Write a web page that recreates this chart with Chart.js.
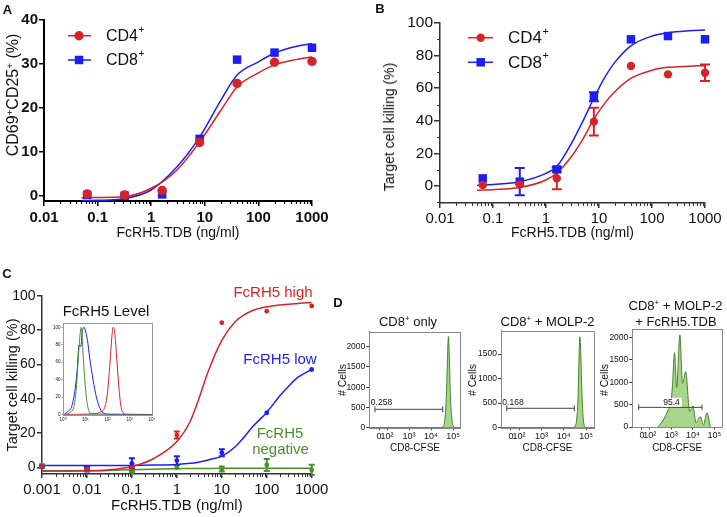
<!DOCTYPE html>
<html>
<head>
<meta charset="utf-8">
<script src="https://cdn.jsdelivr.net/npm/chart.js@4.4.1/dist/chart.umd.min.js"></script>
<style>
body { margin: 0; background: #fff; }
#fig { position: relative; width: 727px; height: 517px; overflow: hidden; font-family: "Liberation Sans", Arial, Helvetica, sans-serif; color: #111; }
canvas { position: absolute; }
.t { position: absolute; white-space: nowrap; line-height: 1; transform: translate(-50%, -50%); }
.r { transform: translate(-50%, -50%) rotate(-90deg); }
.b { font-weight: bold; }
sup { font-size: 0.62em; vertical-align: 0.5em; line-height: 0; }
</style>
</head>
<body>
<div id="fig">
  <canvas id="cA" width="335" height="245" style="left:0;top:0"></canvas>
  <canvas id="cB" width="350" height="245" style="left:377px;top:0"></canvas>
  <canvas id="cC" width="335" height="262" style="left:0;top:255px"></canvas>
  <canvas id="cIn" width="120" height="112" style="left:40px;top:315px"></canvas>
  <canvas id="cD1" width="122" height="135" style="left:345px;top:322px"></canvas>
  <canvas id="cD2" width="124" height="135" style="left:475px;top:322px"></canvas>
  <canvas id="cD3" width="121" height="135" style="left:606px;top:322px"></canvas>

  <div class="t b" style="left:7.5px;top:8.5px;font-size:13px">A</div>
  <div class="t b" style="left:380px;top:8px;font-size:13px">B</div>
  <div class="t b" style="left:7px;top:273px;font-size:13px">C</div>
  <div class="t b" style="left:338px;top:302px;font-size:13px">D</div>

  <div class="t r" style="left:12.5px;top:95px;font-size:16px">CD69<sup>+</sup>CD25<sup>+</sup> (%)</div>
  <div class="t r" style="left:389px;top:127px;font-size:14px">Target cell killing (%)</div>
  <div class="t r" style="left:11.5px;top:385px;font-size:14.5px">Target cell killing (%)</div>

  <div class="t" style="left:273px;top:291px;font-size:15px;color:rgb(215,35,35)">FcRH5 high</div>
  <div class="t" style="left:280px;top:358px;font-size:15px;color:rgb(35,35,235)">FcRH5 low</div>
  <div class="t" style="left:280px;top:432px;font-size:15px;color:rgb(75,145,40)">FcRH5</div>
  <div class="t" style="left:280.5px;top:448px;font-size:15px;color:rgb(75,145,40)">negative</div>
  <div class="t" style="left:106px;top:310px;font-size:15px">FcRH5 Level</div>

  <div class="t" style="left:408px;top:320.5px;font-size:13px">CD8<sup>+</sup> only</div>
  <div class="t" style="left:547.5px;top:320.5px;font-size:13px">CD8<sup>+</sup> + MOLP-2</div>
  <div class="t" style="left:675.5px;top:305px;font-size:13px">CD8<sup>+</sup> + MOLP-2</div>
  <div class="t" style="left:676px;top:320.5px;font-size:13px">+ FcRH5.TDB</div>
  <div class="t r" style="left:342px;top:380px;font-size:10.5px"># Cells</div>
  <div class="t r" style="left:471.5px;top:380px;font-size:10.5px"># Cells</div>
  <div class="t r" style="left:603.5px;top:380px;font-size:10.5px"># Cells</div>
  <div class="t" style="left:381.5px;top:401.5px;font-size:8.5px">0.258</div>
  <div class="t" style="left:513px;top:401.5px;font-size:8.5px">0.168</div>
  <div class="t" style="left:671.5px;top:402px;font-size:8.5px;background:#fff;padding:0 2px">95.4</div>
</div>

<script>
// ---------- A: activation, CD69+CD25+ (%) ----------
var doses = [0.064, 0.32, 1.6, 8, 40, 200, 1000];
var aCD4 = [0.5, 0.3, 1.3, 12.2, 25.6, 30.4, 30.6];
var aCD8 = [0.3, 0.1, 0.4, 13.0, 31.0, 32.6, 33.7];
// fitted curves
var aFitDoses = [0.05, 0.1, 0.3, 1, 3, 8, 20, 40, 100, 200, 500, 1000];
var aCD4Fit = [-0.35, -0.3, -0.15, 1.8, 5.9, 12.3, 19.5, 24.8, 28.0, 29.8, 31.0, 31.6];
var aCD8Fit = [-1.0, -0.95, -0.6, 1.4, 6.6, 13.4, 21.8, 27.5, 30.5, 32.5, 34.0, 34.6];
var aTicksX = [0.01, 0.1, 1, 10, 100, 1000];
var aTicksY = [0, 10, 20, 30, 40];

// ---------- B: target cell killing (%) ----------
var bCD4 = [0.6, 1.0, 4.7, 39.5, 73.6, 68.5, 69.5];
var bCD4Err = [0, 0, 6.6, 8.5, 0, 0, 5];
var bCD8 = [4.7, 2.7, 10.2, 54.8, 90, 92, 90];
var bCD8Err = [0, 8.4, 1.5, 2.8, 0, 0, 0];
var bFitDoses = [0.05, 0.1, 0.32, 1, 1.6, 3, 5, 8, 13, 20, 40, 100, 200, 500, 1000];
var bCD4Fit = [-2.6, -2.2, -0.9, 3.7, 8, 18, 29, 41, 51, 58, 66, 71, 72.8, 73.5, 73.8];
var bCD8Fit = [0.4, 1.0, 2.7, 7.8, 12, 26, 40, 54, 67, 76, 86, 92, 94, 95.2, 95.7];
var bTicksY = [0, 20, 40, 60, 80, 100];

// ---------- C: killing by FcRH5 level ----------
var cDoses = [0.001, 0.01, 0.1, 1, 10, 100, 1000];
var cHigh = [0.4, -1.0, 0, 18.8, 84.3, 91, 94];
var cHighErr = [0.5, 1, 0.8, 2, 0, 0, 0];
var cLow = [0.4, -1.0, 2.3, 3.9, 8.5, 31.8, 57];
var cLowErr = [0.5, 1.5, 3, 2.5, 2, 0, 0];
var cNeg = [0.8, -1.2, -2.5, -0.2, -1, 1.4, -1.5];
var cNegErr = [1, 0.5, 0.5, 0, 1.5, 3.5, 3];
var cFitDoses = [0.001, 0.01, 0.03, 0.1, 0.3, 1, 2, 3, 5, 10, 20, 30, 50, 100, 200, 300, 500, 1000];
var cHighFit = [-2.2, -2.0, -1.5, 0.5, 5, 15, 27, 39, 56, 74, 85, 88.5, 91.5, 93.5, 94.6, 95, 95.5, 96];
var cLowFit = [1, 1, 1, 1.1, 1.3, 1.7, 2.3, 3, 4.3, 6.5, 12, 17, 24, 32, 42, 47, 52.5, 57];
var cNegFit = [-2.2, -2.0, -1.8, -1.4, -1.1, -0.8, -0.75, -0.7, -0.65, -0.6, -0.6, -0.6, -0.6, -0.6, -0.6, -0.6, -0.6, -0.6];
var cTicksX = [0.001, 0.01, 0.1, 1, 10, 100, 1000];
var cTicksY = [0, 20, 40, 60, 80, 100];

// inset: FcRH5 level histograms (x in decades)
var inGreenT = [0.1, 0.3, 0.5, 0.6, 0.7, 0.78, 0.82, 0.88, 0.95, 1.05, 1.15, 1.3, 1.6, 2.0, 4.0];
var inGreenN = [0, 2, 10, 30, 70, 95, 100, 80, 50, 20, 5, 1, 0.5, 0.5, 0];
var inBlueT = [0.05, 0.2, 0.4, 0.55, 0.65, 0.72, 0.8, 0.87, 0.95, 1.0, 1.1, 1.2, 1.35, 1.5, 1.7, 1.9, 2.2, 4.0];
var inBlueN = [0, 3, 10, 30, 55, 80, 78, 95, 100, 97, 85, 65, 40, 20, 5, 1, 0, 0];
var inRedT = [0, 1.4, 1.7, 1.9, 2.0, 2.1, 2.2, 2.25, 2.32, 2.4, 2.5, 2.6, 2.7, 2.9, 4.0];
var inRedN = [0, 1, 3, 10, 25, 55, 90, 100, 95, 70, 35, 10, 2, 0, 0];
var inTicksX = [0, 1, 2, 3, 4];
var inTickLabels = ['10⁰', '10¹', '10²', '10³', '10⁴'];
var inTicksY = [0, 20, 40, 60, 80, 100];

// ---------- D: CFSE dilution (x in decades) ----------
var d1T = [4.45, 4.55, 4.63, 4.7, 4.75, 4.79, 4.83, 4.88, 4.95, 5.05, 5.15];
var d1N = [0, 30, 200, 800, 1700, 2250, 1800, 800, 200, 20, 0];
var d2T = [4.4, 4.5, 4.58, 4.64, 4.68, 4.72, 4.76, 4.81, 4.87, 4.95, 5.05];
var d2N = [0, 30, 180, 650, 1400, 1850, 1500, 700, 180, 20, 0];
var d3T = [2.38, 2.63, 2.85, 3.0, 3.06, 3.15, 3.25, 3.40, 3.52, 3.67, 3.85, 4.0, 4.15, 4.34, 4.49, 4.65, 4.81];
var d3N = [0, 157, 380, 604, 978, 1663, 889, 2060, 978, 1238, 343, 470, 96, 231, 45, 320, 0];
var d1Gate = [1.45, 4.53], d1GateY = 454;
var d2Gate = [1.45, 4.47], d2GateY = 395;
var d3Gate = [1.49, 4.42], d3GateY = 440;
var dTicksX = [1.64, 2, 3, 4, 5];
var dTickLabels = ['0', '10²', '10³', '10⁴', '10⁵'];

var RED = 'rgb(214,35,40)';
var BLUE = 'rgb(30,30,240)';
var GREEN = 'rgb(70,145,40)';

Chart.defaults.font.family = "'Liberation Sans', Arial, Helvetica, sans-serif";
Chart.defaults.color = '#111';
Chart.defaults.animation = false;
Chart.defaults.responsive = false;
Chart.defaults.plugins.legend.display = false;
Chart.defaults.plugins.tooltip.enabled = false;

// minor ticks + box around plot area
var axisExtras = {
  id: 'axisExtras',
  afterDraw: function (chart, args, o) {
    var ctx = chart.ctx, a = chart.chartArea;
    ctx.save();
    ctx.strokeStyle = o.color || '#000';
    ctx.lineWidth = o.width || 1;
    if (o.logMinor) {
      var xs = chart.scales.x;
      for (var d = Math.floor(Math.log10(xs.min)); d < Math.log10(xs.max); d++) {
        for (var k = 2; k < 10; k++) {
          var v = k * Math.pow(10, d);
          if (v < xs.min || v > xs.max) continue;
          var px = Math.round(xs.getPixelForValue(v)) + 0.5;
          ctx.beginPath(); ctx.moveTo(px, a.bottom); ctx.lineTo(px, a.bottom + o.logMinor); ctx.stroke();
        }
      }
    }
    if (o.yMinor) {
      var ys = chart.scales.y;
      o.yMinor.forEach(function (v) {
        var py = Math.round(ys.getPixelForValue(v)) + 0.5;
        ctx.beginPath(); ctx.moveTo(a.left, py); ctx.lineTo(a.left - o.yMinorLen, py); ctx.stroke();
      });
    }
    if (o.box) {
      ctx.strokeStyle = o.box;
      ctx.lineWidth = 1;
      ctx.strokeRect(Math.round(a.left) + 0.5, Math.round(a.top) + 0.5, Math.round(a.right - a.left), Math.round(a.bottom - a.top));
    }
    ctx.restore();
  }
};

// vertical error bars, from dataset.errors
var errorBars = {
  id: 'errorBars',
  beforeDatasetsDraw: function (chart) {
    var ctx = chart.ctx;
    chart.data.datasets.forEach(function (ds, di) {
      if (!ds.errors) return;
      var meta = chart.getDatasetMeta(di), ys = chart.scales.y;
      ctx.save();
      ctx.strokeStyle = ds.borderColor;
      ctx.lineWidth = ds.errWidth || 2;
      ds.data.forEach(function (p, i) {
        var e = ds.errors[i];
        if (!e) return;
        var x = meta.data[i].x, c = ds.errCap || 4;
        var yt = ys.getPixelForValue(p.y + e), yb = ys.getPixelForValue(p.y - e);
        ctx.beginPath();
        ctx.moveTo(x, yt); ctx.lineTo(x, yb);
        ctx.moveTo(x - c, yt); ctx.lineTo(x + c, yt);
        ctx.moveTo(x - c, yb); ctx.lineTo(x + c, yb);
        ctx.stroke();
      });
      ctx.restore();
    });
  }
};

// line + marker legend placed inside the plot
var lineLegend = {
  id: 'lineLegend',
  afterDraw: function (chart, args, o) {
    if (!o.ys) return;
    var ctx = chart.ctx;
    ctx.save();
    o.ys.forEach(function (y, i) {
      var ds = chart.data.datasets[i];
      ctx.strokeStyle = ds.borderColor;
      ctx.lineWidth = 1.5;
      ctx.beginPath(); ctx.moveTo(o.x1, y); ctx.lineTo(o.x2, y); ctx.stroke();
      ctx.fillStyle = ds.backgroundColor;
      var r = ds.pointRadius;
      if (ds.pointStyle === 'rect') {
        var s = r * Math.SQRT1_2;
        ctx.fillRect(o.mx - s, y - s, 2 * s, 2 * s);
      } else {
        ctx.beginPath(); ctx.arc(o.mx, y, r, 0, Math.PI * 2); ctx.fill();
      }
      var main = ds.label.replace(/\+$/, '');
      ctx.fillStyle = '#111';
      ctx.textBaseline = 'middle';
      ctx.font = o.size + 'px ' + Chart.defaults.font.family;
      ctx.fillText(main, o.tx, y + 1);
      var w = ctx.measureText(main).width;
      ctx.font = Math.round(o.size * 0.62) + 'px ' + Chart.defaults.font.family;
      ctx.fillText('+', o.tx + w + 0.5, y - o.size * 0.35);
    });
    ctx.restore();
  }
};

Chart.register(axisExtras, errorBars, lineLegend);

function pts(xs, ys) {
  return xs.map(function (x, i) { return { x: x, y: ys[i] }; });
}

function axis(o) {
  return {
    type: o.type || 'linear',
    min: o.min,
    max: o.max,
    afterFit: function (s) { if (s.isHorizontal()) s.height = o.size; else s.width = o.size; },
    afterBuildTicks: function (s) { s.ticks = o.ticks.map(function (v) { return { value: v }; }); },
    ticks: {
      autoSkip: false, maxRotation: 0, minRotation: 0,
      padding: o.pad, color: o.tc || '#111',
      font: { size: o.fs, weight: o.fw || 'normal' },
      callback: o.labels ? function (v, i) { return o.labels[i]; } : function (v) { return String(v); }
    },
    grid: { drawOnChartArea: false, drawTicks: true, tickLength: o.tl, color: o.gc || '#000', lineWidth: o.lw || 1.5 },
    border: { color: o.bc || '#000', width: o.bw || 1.5 },
    title: o.title ? { display: true, text: o.title, color: '#111', font: { size: o.tfs }, padding: { top: 0, bottom: o.tpad } } : { display: false }
  };
}

function markers(label, xs, ys, color, style, r, extra) {
  var ds = { label: label, data: pts(xs, ys), pointStyle: style, pointRadius: r, backgroundColor: color,
             borderColor: color, pointBorderWidth: 0, clip: false };
  return Object.assign(ds, extra || {});
}

function fit(xs, ys, color, w) {
  return { data: pts(xs, ys), showLine: true, pointRadius: 0, borderColor: color, borderWidth: w || 1.5,
           cubicInterpolationMode: 'monotone', fill: false };
}

// ----- panel A -----
new Chart(document.getElementById('cA'), {
  type: 'scatter',
  data: { datasets: [
    markers('CD4+', doses, aCD4, RED, 'circle', 4.7),
    markers('CD8+', doses, aCD8, BLUE, 'rect', 6),
    fit(aFitDoses, aCD4Fit, RED),
    fit(aFitDoses, aCD8Fit, BLUE)
  ] },
  options: {
    layout: { padding: { left: 0, top: 20, right: 23, bottom: 0 } },
    scales: {
      x: axis({ type: 'logarithmic', min: 0.01, max: 1000, ticks: aTicksX, size: 44, tl: 5, pad: 3, fs: 15, fw: 'bold',
                title: 'FcRH5.TDB (ng/ml)', tfs: 14, tpad: 3, bw: 2 }),
      y: axis({ min: -1.1, max: 40, ticks: aTicksY, size: 44, tl: 5, pad: 1, fs: 15, fw: 'bold', bw: 2 })
    },
    plugins: {
      axisExtras: { logMinor: 3, width: 1.2 },
      lineLegend: { ys: [35.7, 60], x1: 68, x2: 91, mx: 79, tx: 106, size: 16 }
    }
  }
});

// ----- panel B -----
new Chart(document.getElementById('cB'), {
  type: 'scatter',
  data: { datasets: [
    markers('CD4+', doses, bCD4, RED, 'circle', 4.2, { errors: bCD4Err, errCap: 5 }),
    markers('CD8+', doses, bCD8, BLUE, 'rect', 6, { errors: bCD8Err, errCap: 5 }),
    fit(bFitDoses, bCD4Fit, RED),
    fit(bFitDoses, bCD8Fit, BLUE)
  ] },
  options: {
    layout: { padding: { left: 0, top: 23, right: 22, bottom: 0 } },
    scales: {
      x: axis({ type: 'logarithmic', min: 0.01, max: 1000, ticks: aTicksX, size: 42, tl: 5, pad: 2, fs: 15,
                title: 'FcRH5.TDB (ng/ml)', tfs: 14, tpad: 3, gc: '#333', bc: '#333' }),
      y: axis({ min: -10.4, max: 100, ticks: bTicksY, size: 63, tl: 6, pad: 1, fs: 15.5, gc: '#333', bc: '#333' })
    },
    plugins: {
      axisExtras: { logMinor: 3, yMinor: [-10, 10, 30, 50, 70, 90], yMinorLen: 3, color: '#333' },
      lineLegend: { ys: [37.7, 62.3], x1: 91, x2: 116, mx: 103.7, tx: 131, size: 17 }
    }
  }
});

// ----- panel C -----
new Chart(document.getElementById('cC'), {
  type: 'scatter',
  data: { datasets: [
    markers('FcRH5 high', cDoses, cHigh, RED, 'circle', 2.4, { errors: cHighErr, errCap: 3 }),
    markers('FcRH5 low', cDoses, cLow, BLUE, 'circle', 2.4, { errors: cLowErr, errCap: 3 }),
    markers('FcRH5 negative', cDoses, cNeg, GREEN, 'circle', 2.4, { errors: cNegErr, errCap: 3 }),
    fit(cFitDoses, cHighFit, RED),
    fit(cFitDoses, cLowFit, BLUE),
    fit(cFitDoses, cNegFit, GREEN)
  ] },
  options: {
    layout: { padding: { left: 0, top: 40.7, right: 23.3, bottom: 0 } },
    scales: {
      x: axis({ type: 'logarithmic', min: 0.001, max: 1000, ticks: cTicksX, size: 43, tl: 4, pad: 2.5, fs: 15,
                title: 'FcRH5.TDB (ng/ml)', tfs: 15, tpad: 2, gc: '#333', bc: '#333' }),
      y: axis({ min: -3.9, max: 100, ticks: cTicksY, size: 42, tl: 5, pad: 1.5, fs: 14, gc: '#333', bc: '#333' })
    },
    plugins: { axisExtras: { logMinor: 3, color: '#333' } }
  }
});

// ----- inset in C -----
new Chart(document.getElementById('cIn'), {
  type: 'scatter',
  data: { datasets: [
    fit(inGreenT, inGreenN, GREEN, 1),
    fit(inBlueT, inBlueN, BLUE, 1),
    fit(inRedT, inRedN, RED, 1)
  ] },
  options: {
    layout: { padding: { left: 0, top: 8, right: 8, bottom: 0 } },
    scales: {
      x: axis({ min: 0, max: 4, ticks: inTicksX, labels: inTickLabels, size: 12.5, tl: 1.5, pad: 1, fs: 4.5, lw: 0.6, bw: 0.8, gc: '#555', bc: '#888' }),
      y: axis({ min: 0, max: 105, ticks: inTicksY, size: 23, tl: 1.5, pad: 1, fs: 4.5, lw: 0.6, bw: 0.8, gc: '#555', bc: '#888' })
    },
    plugins: { axisExtras: { box: '#999' } }
  }
});

// ----- panel D histograms -----
function histChart(id, t, n, gate, gateY, yMax, yTicks, yW, padR, padT, xH) {
  new Chart(document.getElementById(id), {
    type: 'scatter',
    data: { datasets: [
      { data: pts(gate, [gateY, gateY]), showLine: true, borderColor: '#444', borderWidth: 1,
        pointStyle: 'line', pointRotation: 90, pointRadius: 3, pointBorderColor: '#444', pointBorderWidth: 1 },
      { data: pts(t, n), showLine: true, fill: 'origin', backgroundColor: 'rgba(158,208,128,0.9)',
        borderColor: 'rgb(70,130,40)', borderWidth: 1, pointRadius: 0, cubicInterpolationMode: 'monotone' }
    ] },
    options: {
      layout: { padding: { left: 0, top: padT, right: padR, bottom: 0 } },
      scales: {
        x: axis({ min: 1.195, max: 5.35, ticks: dTicksX, labels: dTickLabels, size: xH, tl: 2.5, pad: 1, fs: 9,
                  title: 'CD8-CFSE', tfs: 10, tpad: 2.7, lw: 1, bw: 1, gc: '#333', bc: '#777' }),
        y: axis({ min: 0, max: yMax, ticks: yTicks, size: yW, tl: 3, pad: 1, fs: 8.5, lw: 1, bw: 1, gc: '#333', bc: '#777' })
      },
      plugins: { axisExtras: { box: '#888' } }
    }
  });
}

histChart('cD1', d1T, d1N, d1Gate, d1GateY, 2370, [0, 500, 1000, 1500, 2000], 24.3, 6.3, 9.7, 29.3);
histChart('cD2', d2T, d2N, d2Gate, d2GateY, 1975, [0, 500, 1000, 1500], 26, 5, 8.7, 29.3);
histChart('cD3', d3T, d3N, d3Gate, d3GateY, 2187, [0, 500, 1000, 1500, 2000], 26.3, 1, 7.3, 30);
</script>
</body>
</html>
